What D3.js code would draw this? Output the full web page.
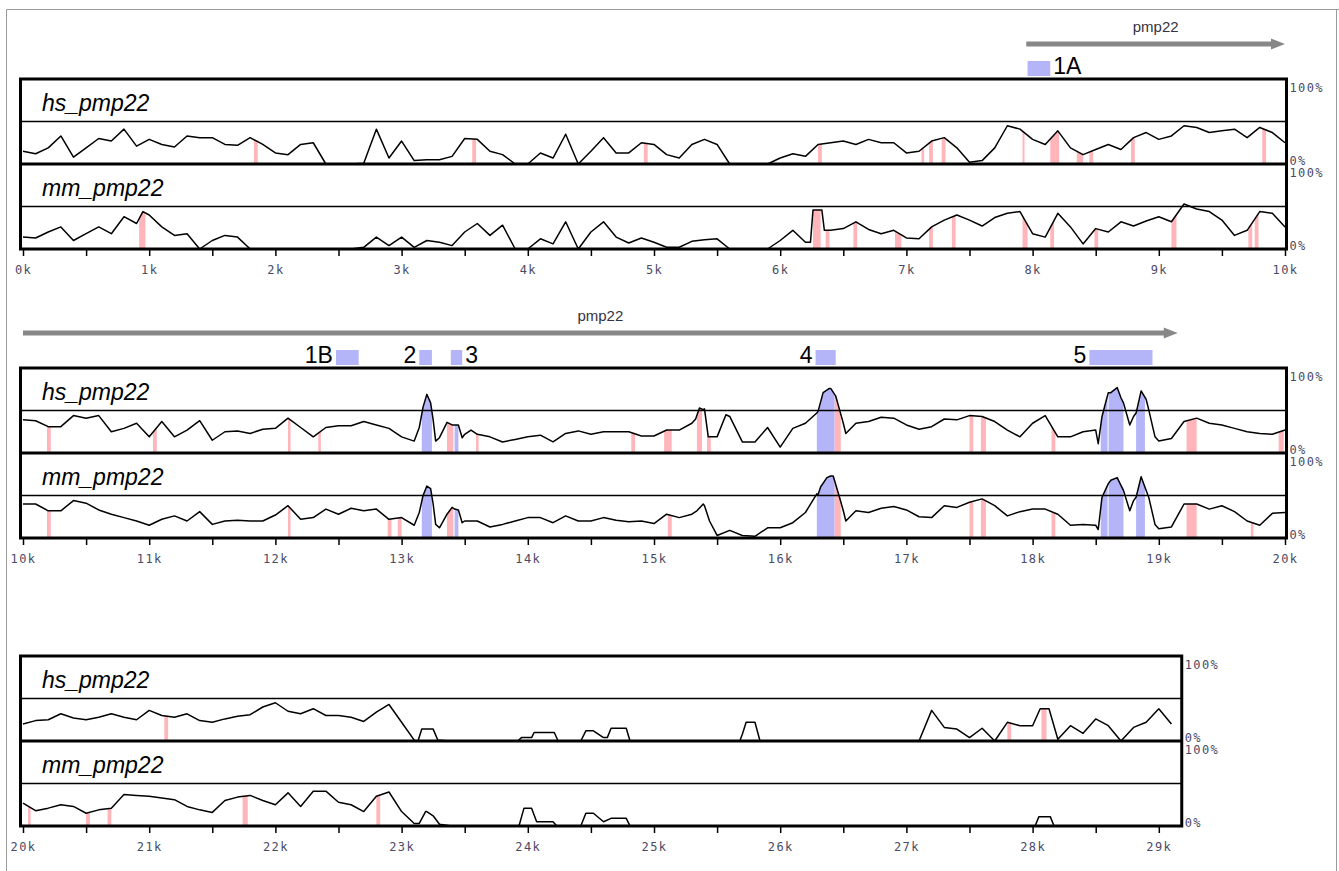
<!DOCTYPE html>
<html>
<meta charset="UTF-8">
<script src="https://d3js.org/d3.v7.min.js"></script>
<style>
    body {
        margin: 0;
        background: #fff;
    }

    svg {
        display: block;
    }

    text.trackname {
        font-family: "Liberation Sans", Arial, sans-serif;
        font-style: italic;
        font-size: 23px;
        fill: #000;
    }

    text.pct,
    .axis text {
        font-family: "DejaVu Sans Mono", monospace;
        font-size: 12px;
        fill: #4a4a66;
        letter-spacing: 1.4px;
    }

    text.gene {
        font-family: "Liberation Sans", Arial, sans-serif;
        font-size: 15px;
        fill: #333344;
    }

    text.exon {
        font-family: "Liberation Sans", Arial, sans-serif;
        font-size: 23px;
        fill: #000;
    }

    .axis .tick line {
        stroke: #000;
        stroke-width: 1.5;
    }
</style>

<body>
    <svg width="1339" height="871"></svg>

    <script>
        // conservation (%) every 100 bp, from the start of each panel
        var hs1 = [15, 12, 19, 33, 8, 19, 30, 27, 41, 21,
            29, 23, 20, 33, 31, 31, 23, 22, 31, 23,
            13, 11, 23, 25, 0, 0, 0, 1, 41, 7,
            27, 4, 5, 5, 9, 30, 29, 15, 11, 0,
            0, 13, 7, 35, 0, 15, 31, 13, 13, 25,
            23, 11, 7, 23, 29, 23, 0, 0, 0, 0,
            7, 12, 9, 23, 25, 27, 23, 29, 25, 25,
            13, 15, 27, 31, 19, 2, 4, 19, 45, 41,
            29, 23, 39, 19, 11, 17, 23, 17, 31, 37,
            29, 33, 45, 43, 37, 39, 41, 31, 43, 37, 25];
        var mm1 = [14, 13, 20, 26, 10, 18, 26, 18, 38, 30,
            40, 26, 16, 18, 0, 10, 16, 14, 0, 0,
            0, 0, 0, 0, 0, 0, 0, 2, 14, 4,
            14, 2, 10, 8, 4, 20, 30, 16, 28, 0,
            0, 12, 6, 32, 0, 20, 32, 14, 7, 13,
            8, 2, 2, 9, 11, 12, 0, 0, 0, 0,
            10, 22, 8, 46, 22, 24, 32, 23, 18, 22,
            13, 12, 26, 34, 40, 34, 27, 37, 42, 44,
            18, 14, 42, 26, 6, 24, 20, 32, 27, 33,
            38, 32, 53, 47, 44, 34, 16, 22, 44, 42, 26];
        var hs2 = [39, 38, 31, 31, 44, 41, 44, 25, 29, 35,
            19, 37, 19, 27, 38, 15, 25, 26, 23, 28,
            29, 41, 30, 19, 30, 32, 32, 37, 33, 29,
            19, 14, 69, 18, 33, 22, 22, 19, 13, 16,
            19, 21, 13, 23, 26, 22, 25, 25, 25, 20,
            20, 27, 27, 35, 52, 19, 43, 13, 13, 30,
            7, 29, 35, 49, 76, 35, 35, 37, 42, 41,
            33, 28, 31, 40, 39, 44, 43, 37, 27, 19,
            35, 44, 19, 19, 25, 27, 71, 65, 43, 63,
            14, 17, 37, 41, 35, 33, 29, 25, 23, 22, 27];
        var mm2 = [40, 40, 32, 32, 44, 41, 33, 28, 24, 20,
            15, 22, 26, 20, 31, 16, 20, 21, 20, 20,
            27, 38, 22, 24, 34, 28, 35, 32, 34, 22,
            24, 15, 61, 12, 36, 20, 20, 13, 16, 20,
            24, 24, 18, 26, 20, 20, 24, 21, 19, 20,
            17, 28, 24, 28, 38, 3, 9, 3, 2, 12,
            12, 18, 30, 51, 73, 32, 32, 30, 35, 37,
            33, 25, 24, 38, 36, 42, 46, 38, 26, 31,
            34, 34, 28, 15, 16, 15, 64, 62, 44, 56,
            11, 13, 40, 40, 34, 38, 31, 20, 15, 29, 30];
        var hs3 = [20, 24, 25, 32, 27, 25, 28, 32, 28, 25,
            36, 30, 28, 32, 24, 22, 26, 29, 31, 40,
            45, 35, 32, 38, 30, 30, 28, 23, 34, 43,
            22, 1, 14, 1, 0, 0, 0, 0, 0, 0,
            4, 10, 10, 0, 0, 12, 4, 15, 5, 0,
            0, 0, 0, 0, 0, 0, 0, 8, 22, 0,
            0, 0, 0, 0, 0, 0, 0, 0, 0, 0,
            0, 0, 36, 16, 14, 4, 15, 0, 22, 18,
            18, 38, 2, 18, 9, 26, 18, 0, 16, 22,
            38, 20];
        var mm3 = [27, 18, 21, 25, 23, 15, 19, 21, 37, 36,
            35, 33, 31, 23, 19, 16, 30, 34, 36, 30,
            25, 39, 23, 41, 41, 28, 25, 17, 35, 40,
            17, 3, 17, 2, 0, 0, 0, 0, 0, 0,
            21, 5, 5, 0, 0, 15, 5, 9, 3, 0,
            0, 0, 0, 0, 0, 0, 0, 0, 0, 0,
            0, 0, 0, 0, 0, 0, 0, 0, 0, 0,
            0, 0, 0, 0, 0, 0, 0, 0, 0, 0,
            0, 11, 0, 0, 0, 0, 0, 0, 0, 0,
            0, 0];

        // extra points [kb, %] on peaks and plateaus
        var hs1x = [];
        var mm1x = [[0.95, 44], [6.24, 8], [6.26, 46], [6.33, 46], [6.35, 22]];
        var hs2x = [[13.14, 30], [13.17, 54], [13.23, 59], [13.25, 39], [13.27, 14], [13.36, 36], [13.45, 33], [13.48, 18], [13.55, 27],
            [15.33, 40], [15.36, 53], [15.39, 51], [15.43, 19], [15.57, 45],
            [16.29, 47], [16.34, 71], [16.39, 76], [16.44, 67], [16.47, 51], [16.52, 23],
            [18.52, 11], [18.55, 43], [18.58, 60], [18.62, 71], [18.67, 77], [18.72, 59], [18.77, 33], [18.82, 47], [18.86, 73], [18.92, 51], [18.97, 19]];
        var mm2x = [[13.14, 30], [13.17, 50], [13.23, 58], [13.25, 40], [13.27, 16], [13.36, 28], [13.42, 34], [13.45, 33], [13.48, 18],
            [15.34, 32], [15.39, 40], [15.44, 20],
            [16.29, 52], [16.32, 60], [16.37, 71], [16.42, 73], [16.47, 48], [16.52, 20],
            [18.52, 10], [18.55, 48], [18.62, 68], [18.67, 71], [18.72, 56], [18.77, 32], [18.82, 48], [18.86, 72], [18.92, 48], [18.97, 16]];
        var hs3x = [[23.13, 0], [23.16, 14], [23.25, 14], [23.29, 0], [23.92, 0], [23.95, 4], [24.03, 4], [24.05, 10], [24.21, 10], [24.24, 0],
            [24.42, 0], [24.46, 12], [24.52, 12], [24.6, 4], [24.63, 4], [24.66, 15], [24.78, 15], [24.81, 0],
            [25.68, 0], [25.73, 22], [25.8, 22], [25.84, 0], [28.06, 38], [28.13, 38]];
        var mm3x = [[23.14, 3], [23.19, 17], [23.25, 12], [23.3, 2], [23.93, 0], [23.97, 21], [24.03, 21], [24.07, 5], [24.2, 5], [24.23, 0],
            [24.42, 0], [24.46, 15], [24.52, 15], [24.6, 5], [24.66, 9], [24.78, 9], [24.81, 0],
            [28.02, 0], [28.05, 11], [28.14, 11], [28.17, 0]];

        // conserved regions [start kb, end kb]
        var hsPink1 = [[1.83, 1.86], [3.56, 3.59], [4.92, 4.95], [6.30, 6.33], [7.12, 7.14], [7.18, 7.21], [7.28, 7.31], [7.92, 7.93],
            [8.14, 8.21], [8.35, 8.40], [8.45, 8.48], [8.78, 8.81], [9.82, 9.85]];
        var mmPink1 = [[0.92, 0.97], [6.26, 6.32], [6.36, 6.39], [6.58, 6.61], [6.91, 6.96], [7.18, 7.21], [7.36, 7.39], [7.92, 7.96],
            [8.14, 8.17], [8.49, 8.52], [9.10, 9.14], [9.71, 9.74], [9.76, 9.79]];
        var hsPink2 = [[10.19, 10.22], [11.03, 11.06], [12.10, 12.12], [12.34, 12.36], [13.36, 13.41], [13.59, 13.61], [14.82, 14.85],
            [15.08, 15.14], [15.34, 15.38], [15.42, 15.45], [16.43, 16.48], [17.50, 17.53], [17.59, 17.63], [18.15, 18.18],
            [19.22, 19.30], [19.95, 19.99]];
        var mmPink2 = [[10.19, 10.22], [12.10, 12.12], [12.89, 12.92], [12.97, 13.00], [13.36, 13.41], [15.11, 15.14], [16.43, 16.48],
            [17.50, 17.53], [17.59, 17.63], [18.15, 18.18], [19.22, 19.30], [19.73, 19.75]];
        var blue2 = [[13.16, 13.24], [13.42, 13.45], [16.29, 16.43], [18.54, 18.594], [18.602, 18.72], [18.82, 18.89]];
        var hsPink3 = [[21.12, 21.15], [27.80, 27.83], [28.07, 28.11]];
        var mmPink3 = [[20.04, 20.06], [20.50, 20.53], [20.67, 20.70], [21.74, 21.78], [22.80, 22.83]];

        // gene and exons
        var geneName = "pmp22";
        var genes = [[7.95, 10.0], [10.0, 19.15]];
        var exonLabels = ["1A", "1B", "2", "3", "4", "5"];
        var exonSpans = [[7.96, 8.14], [12.48, 12.66], [13.14, 13.24], [13.39, 13.48], [16.28, 16.44], [18.45, 18.95]];
        var exonSide = ["right", "left", "left", "right", "left", "left"];
        var exonPanel = [0, 1, 1, 1, 1, 1];

        var trackNames = ["hs_pmp22", "mm_pmp22"];
        var panelStarts = [0, 10, 20];
        var panelEnds = [10, 20, 29.17];

        var panels = [
            { top: 79, tracks: [{ v: hs1, x: hs1x, pink: hsPink1, blue: [] }, { v: mm1, x: mm1x, pink: mmPink1, blue: [] }] },
            { top: 368, tracks: [{ v: hs2, x: hs2x, pink: hsPink2, blue: blue2 }, { v: mm2, x: mm2x, pink: mmPink2, blue: blue2 }] },
            { top: 656, tracks: [{ v: hs3, x: hs3x, pink: hsPink3, blue: [] }, { v: mm3, x: mm3x, pink: mmPink3, blue: [] }] }
        ];

        const H = 85;
        const pinkCol = "#ffb5ba",
            blueCol = "#b4b4f8";

        const svg = d3.select("svg");

        // page frame
        svg.append("path")
            .attr("d", "M6.5,871V9.5H1339M1336.5,9.5V871")
            .attr("fill", "none")
            .attr("stroke", "#9a9a9a")
            .attr("stroke-width", 1);

        panels.forEach(function(p, pi) {
            const start = panelStarts[pi],
                end = panelEnds[pi];
            const x = d3.scaleLinear().domain([start, start + 10]).range([23, 1285]);
            const bx0 = x(start) - 2.5,
                bx1 = x(end) + 1.5;
            const g = svg.append("g");

            p.tracks.forEach(function(t, ti) {
                const ty = p.top + ti * H;
                const y = d3.scaleLinear().domain([0, 100]).range([ty + H, ty]);
                const pts = t.v.map((v, j) => [start + j * 0.1, v])
                    .concat(t.x)
                    .sort((a, b) => a[0] - b[0]);

                const area = d3.area()
                    .x(d => x(d[0]))
                    .y0(ty + H)
                    .y1(d => y(d[1]));
                const line = d3.line()
                    .x(d => x(d[0]))
                    .y(d => y(d[1]));

                const cid = "clip" + pi + "_" + ti;
                svg.append("clipPath").attr("id", cid)
                    .append("path").attr("d", area(pts));

                const shade = g.append("g").attr("clip-path", "url(#" + cid + ")");
                shade.selectAll("rect.pink")
                    .data(t.pink)
                    .enter().append("rect")
                    .attr("x", d => x(d[0]))
                    .attr("y", ty)
                    .attr("width", d => Math.max(2, x(d[1]) - x(d[0])))
                    .attr("height", H)
                    .attr("fill", pinkCol);
                shade.selectAll("rect.blue")
                    .data(t.blue)
                    .enter().append("rect")
                    .attr("x", d => x(d[0]))
                    .attr("y", ty)
                    .attr("width", d => Math.max(2, x(d[1]) - x(d[0])))
                    .attr("height", H)
                    .attr("fill", blueCol);

                // 50% line
                g.append("line")
                    .attr("x1", bx0).attr("x2", bx1)
                    .attr("y1", y(50)).attr("y2", y(50))
                    .attr("stroke", "#000").attr("stroke-width", 1.5);

                g.append("path")
                    .attr("d", line(pts))
                    .attr("fill", "none")
                    .attr("stroke", "#000")
                    .attr("stroke-width", 1.5)
                    .attr("stroke-linejoin", "round");

                g.append("text")
                    .attr("class", "trackname")
                    .attr("x", 42)
                    .attr("y", ty + 32)
                    .text(trackNames[ti]);

                g.append("text").attr("class", "pct")
                    .attr("x", bx1 + 3).attr("y", ty + 13).text("100%");
                g.append("text").attr("class", "pct")
                    .attr("x", bx1 + 3).attr("y", ty + H + 1).text("0%");
            });

            // frame of the panel
            g.append("rect")
                .attr("x", bx0).attr("y", p.top)
                .attr("width", bx1 - bx0).attr("height", 2 * H)
                .attr("fill", "none").attr("stroke", "#000").attr("stroke-width", 3);
            g.append("line")
                .attr("x1", bx0).attr("x2", bx1)
                .attr("y1", p.top + H).attr("y2", p.top + H)
                .attr("stroke", "#000").attr("stroke-width", 3);

            // axis
            const ticks = d3.range(start, Math.floor(end * 2) / 2 + 0.001, 0.5);
            const ax = svg.append("g")
                .attr("class", "axis")
                .attr("transform", `translate(0,${p.top + 2 * H})`)
                .call(d3.axisBottom(x)
                    .tickValues(ticks)
                    .tickSize(7)
                    .tickPadding(9)
                    .tickFormat(d => Math.abs(d % 1) < 1e-6 ? Math.round(d) + "k" : ""));
            ax.select(".domain").remove();

            // gene arrow
            genes.forEach(function(gn) {
                if (gn[0] < start - 1e-6 || gn[0] >= start + 10) return;
                const gy = p.top - 35;
                const xa = x(gn[0]),
                    xb = x(gn[1]);
                svg.append("line")
                    .attr("x1", xa).attr("x2", xb - 12)
                    .attr("y1", gy).attr("y2", gy)
                    .attr("stroke", "#878787").attr("stroke-width", 5);
                svg.append("path")
                    .attr("d", `M${xb - 14},${gy - 5.5}L${xb},${gy}L${xb - 14},${gy + 5.5}Z`)
                    .attr("fill", "#878787");
                svg.append("text")
                    .attr("class", "gene")
                    .attr("x", (xa + xb) / 2)
                    .attr("y", p.top - 47)
                    .attr("text-anchor", "middle")
                    .text(geneName);
            });

            // exon boxes
            exonLabels.forEach(function(lab, ei) {
                if (exonPanel[ei] !== pi) return;
                const s = exonSpans[ei];
                svg.append("rect")
                    .attr("x", x(s[0])).attr("y", p.top - 18)
                    .attr("width", x(s[1]) - x(s[0])).attr("height", 15)
                    .attr("fill", blueCol);
                const right = exonSide[ei] === "right";
                svg.append("text")
                    .attr("class", "exon")
                    .attr("x", right ? x(s[1]) + 3 : x(s[0]) - 3)
                    .attr("y", p.top - 5)
                    .attr("text-anchor", right ? "start" : "end")
                    .text(lab);
            });
        });
    </script>

</body></html>
